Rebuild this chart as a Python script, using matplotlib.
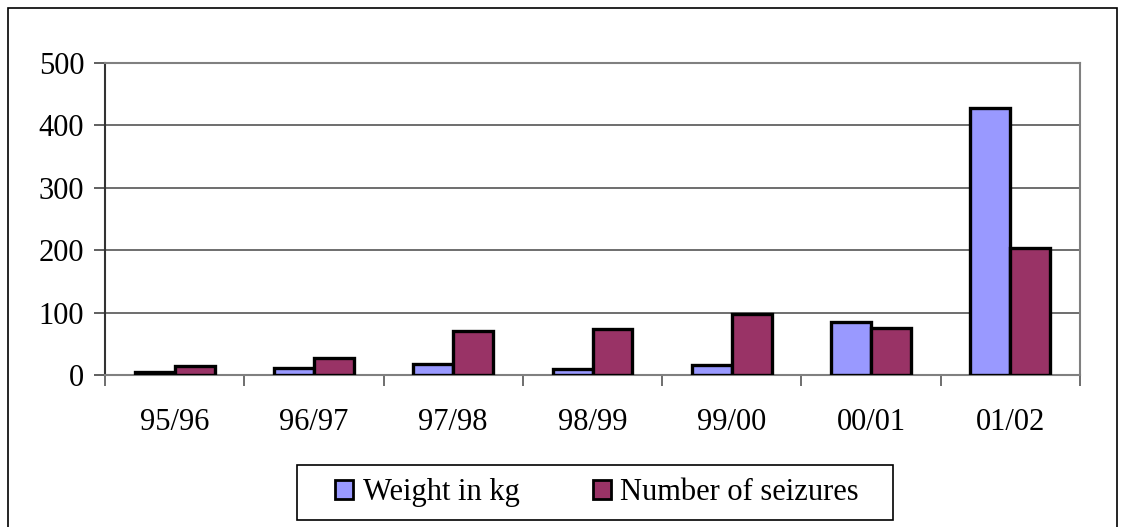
import numpy as np
import matplotlib
matplotlib.use("Agg")
import matplotlib.pyplot as plt
from matplotlib.patches import Rectangle, Patch

years = ["95/96", "96/97", "97/98", "98/99", "99/00", "00/01", "01/02"]
weight_kg = [5, 12, 18, 10, 16, 85, 428]
seizures = [14, 27, 71, 73, 98, 76, 203]

plt.rcParams['font.family'] = ['Liberation Serif', 'DejaVu Serif']

fig = plt.figure(figsize=(11.28, 5.27), dpi=100)

# outer chart border
fig.patches.append(Rectangle((8 / 1128, -0.02), 1109 / 1128, 1.02 - 8 / 527,
                             transform=fig.transFigure, fill=False,
                             edgecolor='black', linewidth=1.2))

ax = fig.add_axes([105 / 1128, 152 / 527, 975 / 1128, 312 / 527])

x = np.arange(len(years))
w = 0.287
ax.bar(x - w / 2, weight_kg, w, color='#9999ff', edgecolor='black', linewidth=2.4,
       label='Weight in kg', zorder=3)
ax.bar(x + w / 2, seizures, w, color='#993366', edgecolor='black', linewidth=2.4,
       label='Number of seizures', zorder=3)

ax.set_xlim(-0.5, len(years) - 0.5)
ax.set_ylim(0, 500)
ax.set_yticks([0, 100, 200, 300, 400, 500])
ax.yaxis.grid(True, color='#555555', linewidth=1.2, zorder=0)

ax.set_xticks(x)
ax.set_xticklabels(years)
ax.set_xticks(np.arange(len(years) + 1) - 0.5, minor=True)
ax.tick_params(axis='x', which='major', length=0, pad=24, labelsize=22)
ax.tick_params(axis='x', which='minor', length=8, width=1.2, color='#555555', direction='out')
ax.tick_params(axis='y', length=8, width=1.2, color='#444444', pad=7, labelsize=22)

for s in ['top', 'right', 'bottom']:
    ax.spines[s].set_color('#808080')
    ax.spines[s].set_linewidth(1.5)
ax.spines['left'].set_color('#333333')
ax.spines['left'].set_linewidth(1.5)

# legend box
fig.patches.append(Rectangle((297 / 1128, 7 / 527), 596 / 1128, 55 / 527,
                             transform=fig.transFigure, fill=False,
                             edgecolor='black', linewidth=1.2))
handles = [Patch(facecolor='#9999ff', edgecolor='black', linewidth=2),
           Patch(facecolor='#993366', edgecolor='black', linewidth=2)]
fig.legend(handles, ['Weight in kg', 'Number of seizures'], loc='center',
           bbox_to_anchor=(597 / 1128, 34.5 / 527), ncol=2, frameon=False,
           fontsize=22, handlelength=0.6, handleheight=0.6, handletextpad=0.3,
           columnspacing=2.4)

fig.savefig('out.png', dpi=100)
